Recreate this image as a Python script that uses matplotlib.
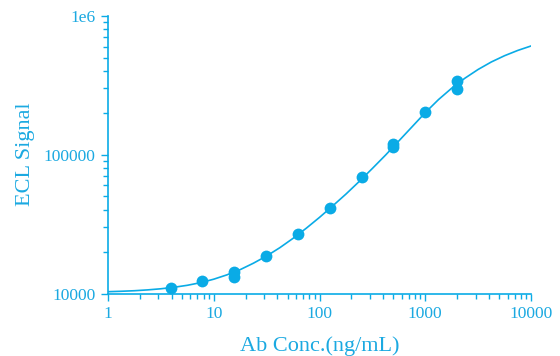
import matplotlib
matplotlib.use("Agg")
import matplotlib.pyplot as plt
from matplotlib.ticker import LogLocator, NullFormatter, FixedLocator, FixedFormatter

# Measured data points
conc = [3.9, 7.8, 15.6, 15.6, 31.25, 62.5, 125, 250, 500, 500, 1000, 2000, 2000]
signal = [11010, 12360, 14280, 13150, 18620, 26680, 41040, 69340, 120200, 114300, 202700, 337300, 296700]

# Fitted curve
curve_x = [1, 1.33, 1.78, 2.37, 3.16, 4.22, 5.62, 7.5, 10, 13.3, 17.8, 23.7, 31.6, 42.2, 56.2,
           75, 100, 133, 178, 237, 316, 422, 562, 750, 1000, 1334, 1778, 2371, 3162, 4217,
           5623, 7499, 10000]
curve_y = [10304, 10375, 10471, 10617, 10814, 11092, 11455, 11967, 12677, 13614, 14859, 16520,
           18621, 21380, 24946, 29512, 35318, 42658, 52000, 63973, 79433, 99312, 125314,
           158489, 200447, 248886, 300608, 354813, 410204, 464515, 515229, 562341, 605340]

y_ticks = [1e4, 1e5, 1e6]
y_tick_labels = ["10000", "100000", "1e6"]
x_ticks = [1, 10, 100, 1000, 10000]
x_tick_labels = ["1", "10", "100", "1000", "10000"]

blue = "#0aabe6"
txt = "#1ba9e1"

plt.rcParams['font.family'] = ['Liberation Serif', 'DejaVu Serif']

fig = plt.figure(figsize=(5.6, 3.56), dpi=100)
ax = fig.add_axes([108/560, 1-293.5/356, (531-108)/560, (293.5-15.7)/356])

ax.plot(curve_x, curve_y, color=blue, lw=1.2, zorder=2)
ax.plot(conc, signal, 'o', color=blue, ms=8.5, mec='none', zorder=3)

ax.set_xscale('log')
ax.set_yscale('log')
ax.set_xlim(1, 10000)
ax.set_ylim(1e4, 1e6)

ax.xaxis.set_major_locator(FixedLocator(x_ticks))
ax.xaxis.set_major_formatter(FixedFormatter(x_tick_labels))
ax.xaxis.set_minor_locator(LogLocator(base=10, subs=range(2, 10)))
ax.xaxis.set_minor_formatter(NullFormatter())
ax.yaxis.set_major_locator(FixedLocator(y_ticks))
ax.yaxis.set_major_formatter(FixedFormatter(y_tick_labels))
ax.yaxis.set_minor_locator(LogLocator(base=10, subs=range(2, 10)))
ax.yaxis.set_minor_formatter(NullFormatter())

for s in ['top', 'right']:
    ax.spines[s].set_visible(False)
for s in ['left', 'bottom']:
    ax.spines[s].set_color(blue)
    ax.spines[s].set_linewidth(1.2)

ax.tick_params(which='major', direction='out', length=5, width=1, colors=blue,
               labelcolor=txt, labelsize=12.5, pad=4)
ax.tick_params(which='minor', direction='out', length=3.5, width=1, colors=blue)

ax.set_xlabel("Ab Conc.(ng/mL)", color=txt, fontsize=16, labelpad=10)
ax.set_ylabel("ECL Signal", color=txt, fontsize=16, labelpad=6)

fig.savefig("out.png", dpi=100)
